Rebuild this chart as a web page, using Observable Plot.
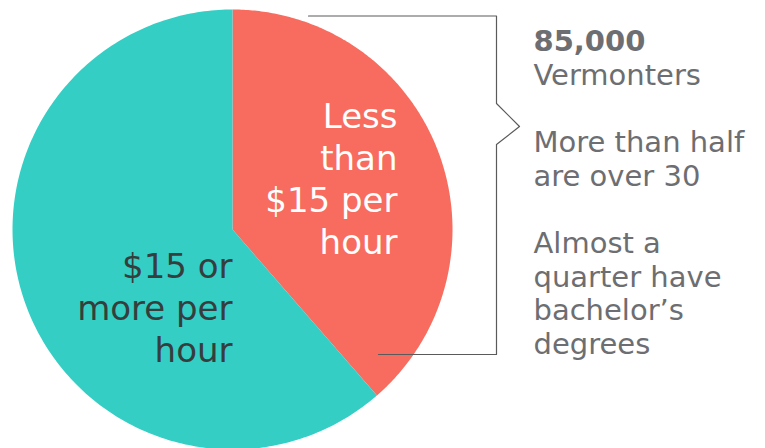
<!DOCTYPE html>
<html>
<head>
<meta charset="utf-8">
<script src="https://cdn.jsdelivr.net/npm/d3@7"></script>
<script src="https://cdn.jsdelivr.net/npm/@observablehq/plot@0.6"></script>
<style>
  html, body { margin: 0; padding: 0; background: #fff; }
  #chart { width: 765px; height: 448px; }
</style>
</head>
<body>
<div id="chart"></div>
<script>
// ---- data ----
const categories = ["Less than $15 per hour", "$15 or more per hour"];
const shares = [38.6, 61.4];
const sliceColors = ["#f76c5e", "#35cec5"];
const sliceLabels = ["Less\nthan\n$15 per\nhour", "$15 or\nmore per\nhour"];
const headline = "85,000";
const calloutText = "Vermonters\n\nMore than half\nare over 30\n\nAlmost a\nquarter have\nbachelor\u2019s\ndegrees";

// ---- layout (pixels) ----
const W = 765, H = 448;
const CX = 232, CY = 229, R = 220;
const px = (x) => (x - CX) / R;
const py = (y) => (CY - y) / R;
const FONT = "DejaVu Sans, Verdana, sans-serif";

// ---- slices as polygons in unit-circle coordinates ----
const total = d3.sum(shares);
const pieRows = [];
let start = 0;
categories.forEach((cat, i) => {
  const a0 = start * 2 * Math.PI / total;
  const a1 = (start + shares[i]) * 2 * Math.PI / total;
  start += shares[i];
  pieRows.push({cat, x: 0, y: 0});
  const n = 240;
  for (let k = 0; k <= n; k++) {
    const t = a0 + (a1 - a0) * k / n;
    pieRows.push({cat, x: Math.sin(t), y: Math.cos(t)});
  }
  pieRows.push({cat, x: 0, y: 0});
});

// ---- annotations ----
const bracket = [[308,15.5],[496,15.5],[496,103],[519,126],[496,144],[496,354],[378,354]]
  .map(([x, y]) => ({x: px(x), y: py(y)}));

const pieFont = 34, calloutFont = 29;
const labelRows = [
  {text: sliceLabels[0], x: px(397), y: py(122 - 0.71 * pieFont), fill: "#ffffff"},
  {text: sliceLabels[1], x: px(232), y: py(272 - 0.71 * pieFont), fill: "#353d3d"}
];

const chart = Plot.plot({
  width: W,
  height: H,
  margin: 0,
  x: {domain: [px(0), px(W)], axis: null},
  y: {domain: [py(H), py(0)], axis: null},
  color: {domain: categories, range: sliceColors},
  style: {fontFamily: FONT, background: "#fff"},
  marks: [
    Plot.line(pieRows, {x: "x", y: "y", z: "cat", fill: "cat", stroke: "none", curve: "linear"}),
    Plot.line(bracket, {x: "x", y: "y", stroke: "#5a5a5a", strokeWidth: 1.2, curve: "linear"}),
    Plot.text(labelRows, {
      x: "x", y: "y", text: "text", fill: (d) => d.fill,
      textAnchor: "end", lineAnchor: "top", fontSize: pieFont, lineHeight: 1.235
    }),
    Plot.text([headline], {
      x: px(533), y: py(50 - 0.71 * calloutFont), text: (d) => d,
      textAnchor: "start", lineAnchor: "top", fontSize: calloutFont, fontWeight: "bold", fill: "#6d6e71"
    }),
    Plot.text([calloutText], {
      x: px(533), y: py(81 - 0.71 * calloutFont), text: (d) => d,
      textAnchor: "start", lineAnchor: "top", fontSize: calloutFont, lineHeight: 1.16, fill: "#6d6e71"
    })
  ]
});
document.getElementById("chart").appendChild(chart);
</script>
</body>
</html>
